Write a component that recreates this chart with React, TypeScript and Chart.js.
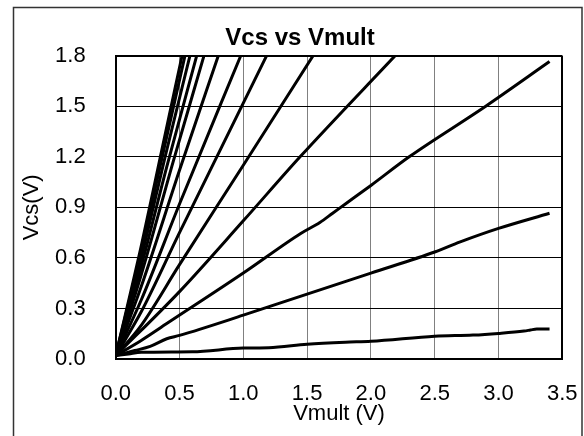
import { useEffect, useRef } from "react";
import { Chart, registerables } from "chart.js";

Chart.register(...registerables);

// ---- data ----
const xTickLabels = ["0.0", "0.5", "1.0", "1.5", "2.0", "2.5", "3.0", "3.5"];
const yTickLabels = ["0.0", "0.3", "0.6", "0.9", "1.2", "1.5", "1.8"];

const vmultC = [0, 0.1, 0.2, 0.6, 1.0, 1.2, 1.5, 1.8, 2.0, 2.5, 2.8, 3.0, 3.2, 3.25, 3.3, 3.4];
const vcsC = [0.02, 0.03, 0.04, 0.043, 0.065, 0.067, 0.088, 0.1, 0.105, 0.135, 0.142, 0.152, 0.166, 0.172, 0.178, 0.178];

const vmultB = [0, 0.15, 0.27, 0.4, 0.5, 1.0, 1.5, 2.0, 2.5, 2.7, 3.0, 3.4];
const vcsB = [0.02, 0.05, 0.075, 0.12, 0.14, 0.26, 0.385, 0.51, 0.635, 0.695, 0.775, 0.865];

const vmultA = [0, 0.2, 0.4, 1.0, 1.45, 1.6, 1.7, 1.8, 2.0, 2.3, 2.9, 3.4];
const vcsA = [0.02, 0.11, 0.21, 0.51, 0.745, 0.81, 0.865, 0.92, 1.03, 1.2, 1.5, 1.765];

const vmultD = [0, 0.5, 1.0, 1.445, 2.19];
const vcsD = [0.02, 0.4, 0.82, 1.2, 1.8];

const vmultE = [0, 0.2, 0.5, 1.0, 1.547];
const vcsE = [0.02, 0.2, 0.56, 1.15, 1.8];

const vmultF = [0, 0.2, 0.5, 1.183];
const vcsF = [0.02, 0.28, 0.75, 1.8];

const vmultG = [0, 0.2, 0.5, 0.98];
const vcsG = [0.02, 0.35, 0.92, 1.8];

const vmultH = [0, 0.2, 0.5, 0.804];
const vcsH = [0.02, 0.43, 1.12, 1.8];

const vmultI = [0, 0.2, 0.45, 0.692];
const vcsI = [0.02, 0.5, 1.17, 1.8];

const vmultJ = [0, 0.2, 0.4, 0.635];
const vcsJ = [0.02, 0.55, 1.14, 1.8];

const vmultK = [0, 0.2, 0.4, 0.582];
const vcsK = [0.02, 0.6, 1.24, 1.8];

const vmultL = [0, 0.2, 0.35, 0.543];
const vcsL = [0.02, 0.64, 1.15, 1.8];

const vmultM = [0, 0.2, 0.35, 0.52];
const vcsM = [0.02, 0.67, 1.2, 1.8];

const seriesList: [number[], number[]][] = [
  [vmultC, vcsC],
  [vmultB, vcsB],
  [vmultA, vcsA],
  [vmultD, vcsD],
  [vmultE, vcsE],
  [vmultF, vcsF],
  [vmultG, vcsG],
  [vmultH, vcsH],
  [vmultI, vcsI],
  [vmultJ, vcsJ],
  [vmultK, vcsK],
  [vmultL, vcsL],
  [vmultM, vcsM],
];

const FONT = "'Liberation Sans', Arial, sans-serif";

const framePlugin = {
  id: "outerFrame",
  afterDraw(chart: any) {
    const ctx = chart.ctx;
    ctx.save();
    ctx.strokeStyle = "#333";
    ctx.lineWidth = 1.5;
    ctx.strokeRect(13.5, 7.5, 568.5, 440);
    ctx.restore();
  },
};

export default function App() {
  const ref = useRef<HTMLCanvasElement | null>(null);

  useEffect(() => {
    if (!ref.current) return;
    const chart = new Chart(ref.current, {
      type: "line",
      data: {
        datasets: seriesList.map(([xs, ys]) => ({
          data: xs.map((x, i) => ({ x, y: ys[i] })),
          borderColor: "#000",
          borderWidth: 3,
          pointRadius: 0,
          fill: false,
          cubicInterpolationMode: "monotone" as const,
          clip: 0,
        })),
      },
      options: {
        responsive: false,
        animation: false,
        layout: { padding: { left: 16, right: 0, top: 0, bottom: 0 } },
        plugins: {
          legend: { display: false },
          tooltip: { enabled: false },
          title: {
            display: true,
            text: "Vcs vs Vmult",
            color: "#000",
            font: { family: FONT, size: 24, weight: "bold" },
            padding: { top: 23.6, bottom: 3.3 },
          },
        },
        scales: {
          x: {
            type: "linear",
            min: 0,
            max: 3.5,
            afterFit: (s: any) => {
              s.height = 77;
              s.paddingRight = 21.7;
              s.paddingLeft = 0;
            },
            ticks: {
              stepSize: 0.5,
              padding: 22,
              color: "#000",
              font: { family: FONT, size: 22 },
              maxRotation: 0,
              autoSkip: false,
              callback: (_v: any, i: number) => xTickLabels[i] ?? "",
            },
            grid: {
              drawTicks: false,
              color: (c: any) => (c.tick && (c.tick.value === 0 || c.tick.value === 3.5) ? "#000" : "#808080"),
              lineWidth: (c: any) => (c.tick && c.tick.value === 3.5 ? 2 : 1),
            },
            border: { display: true, color: "#000", width: 2 },
            title: {
              display: true,
              text: "Vmult (V)",
              color: "#000",
              font: { family: FONT, size: 22 },
              padding: { top: 0, bottom: 8.8 },
            },
          },
          y: {
            type: "linear",
            min: 0,
            max: 1.8,
            afterFit: (s: any) => {
              s.width = 99.7;
            },
            ticks: {
              stepSize: 0.3,
              padding: 30,
              color: "#000",
              font: { family: FONT, size: 22 },
              autoSkip: false,
              callback: (_v: any, i: number) => yTickLabels[i] ?? "",
            },
            grid: {
              drawTicks: false,
              color: "#000",
              lineWidth: (c: any) => (c.tick && Math.abs(c.tick.value - 1.8) < 1e-6 ? 2 : 1),
            },
            border: { display: true, color: "#000", width: 2 },
            title: {
              display: true,
              text: "Vcs(V)",
              color: "#000",
              font: { family: FONT, size: 22 },
              padding: { top: 2.8, bottom: 0 },
            },
          },
        },
      },
      plugins: [framePlugin],
    });
    return () => chart.destroy();
  }, []);

  return (
    <div style={{ position: "fixed", left: 0, top: 0, width: 584, height: 436, background: "#fff" }}>
      <canvas ref={ref} width={584} height={436} style={{ display: "block" }} />
    </div>
  );
}
